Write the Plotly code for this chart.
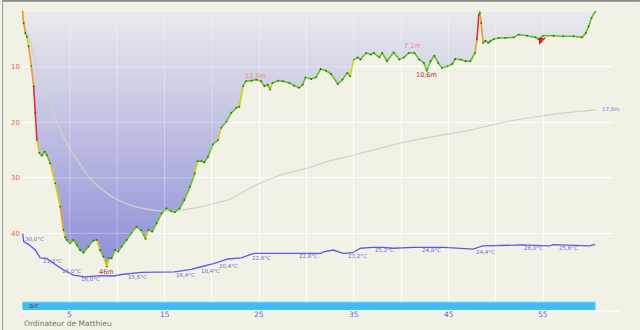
import numpy as np
import plotly.graph_objects as go

# ---------------- data ----------------
time_min = [0, 0.13, 0.3, 0.47, 0.65, 0.93, 1.18, 1.35, 1.53, 1.77, 2.05, 2.34, 2.58, 2.93, 3.45, 3.98,
            4.33, 4.5, 4.68, 5.03, 5.39, 5.74, 6.08, 6.44, 6.97, 7.49, 7.84, 8.19, 8.55, 8.9, 9.14, 9.42,
            9.77, 10.12, 10.47, 11.0, 11.5, 12.05, 12.5, 13.0, 13.3, 13.7, 14.16, 14.7, 15.2, 15.7, 16.1,
            16.6, 17.1, 17.7, 18.2, 18.5, 18.9, 19.2, 19.6, 20.1, 20.65, 21.0, 21.53, 22.05, 22.6, 22.9,
            23.3, 23.6, 24.2, 24.7, 25.2, 25.56, 25.9, 26.16, 26.4, 27.0, 27.5, 28.2, 28.7, 29.2, 29.6,
            29.9, 30.5, 31.0, 31.5, 32.05, 32.6, 33.3, 33.8, 34.3, 34.6, 35.0, 35.4, 35.7, 36.3, 36.8,
            37.1, 37.7, 38.0, 38.5, 39.2, 39.8, 40.3, 40.8, 41.4, 41.9, 42.4, 42.7, 43.1, 43.5, 43.9,
            44.3, 44.9, 45.4, 45.7, 46.3, 46.8, 47.3, 47.8, 48.0, 48.2, 48.3, 48.45, 48.65, 48.9, 49.2,
            49.4, 49.8, 50.3, 51.0, 51.9, 52.4, 53.3, 54.2, 54.5, 55.0, 56.1, 57.1, 58.2, 59.1, 59.5,
            59.8, 60.1, 60.5]
depth_m = [0, 2.1, 3.9, 4.6, 6.3, 9.9, 13.5, 18.3, 23.2, 25.5, 26.0, 25.3, 25.9, 27.4, 31.0, 35.2,
           39.4, 40.7, 41.2, 41.8, 41.2, 42.1, 43.0, 43.5, 42.4, 41.3, 41.2, 43.0, 44.2, 46.0, 44.5, 44.5,
           43.0, 43.3, 42.4, 41.2, 40.0, 38.8, 39.4, 41.0, 39.4, 39.7, 38.2, 36.4, 35.5, 36.0, 36.2,
           35.5, 34.0, 31.6, 29.2, 27.0, 27.0, 27.2, 26.2, 24.0, 23.2, 21.0, 19.9, 18.3, 17.4, 17.2,
           13.5, 12.6, 12.5, 12.3, 12.6, 13.5, 13.2, 14.1, 12.9, 12.5, 12.6, 12.9, 13.4, 13.8, 13.2,
           11.9, 12.2, 11.9, 10.4, 10.7, 11.3, 13.1, 12.3, 11.1, 11.7, 8.7, 8.3, 8.7, 7.5, 7.8,
           7.5, 8.3, 7.5, 9.0, 7.4, 8.7, 8.3, 7.5, 7.5, 8.7, 9.3, 10.7, 9.0, 8.0, 9.3,
           10.2, 9.9, 9.5, 8.6, 8.7, 9.0, 9.0, 7.5, 5.1, 0.6, 0.2, 2.1, 5.7, 5.3, 5.7,
           5.4, 5.0, 4.8, 4.8, 4.7, 4.2, 4.4, 4.7, 5.0, 4.4, 4.4, 4.5, 4.5, 4.7, 3.9,
           2.7, 1.2, 0]

avg_time = [0.02, 0.65, 1.35, 1.87, 2.4, 3.45, 4.86, 6.26, 7.3, 8.7, 10.1, 11.9, 14.3, 16.4, 18.9,
            21.0, 21.7, 24.7, 27.3, 29.8, 32.2, 35.0, 37.5, 40.0, 42.05, 47.3, 50.8, 54.3, 57.8, 60.5]
avg_depth = [2.1, 4.5, 8.7, 12.3, 14.7, 19.2, 24.4, 28.0, 30.4, 32.5, 34.0, 35.2, 35.9, 35.9, 35.2,
             34.3, 34.0, 31.3, 29.5, 28.4, 27.1, 25.9, 24.8, 23.7, 23.0, 21.4, 20.0, 19.0, 18.2, 17.8]

temp_time = [0.02, 0.13, 0.65, 1.35, 1.87, 2.58, 3.45, 4.33, 5.39, 6.61, 8.37, 9.6, 10.47, 12.58,
             16.05, 17.84, 18.9, 20.26, 21.7, 23.1, 24.2, 24.5, 31.5, 31.8, 32.8, 33.3, 33.9, 34.9,
             35.7, 37.0, 38.05, 39.2, 41.3, 44.5, 47.6, 48.6, 52.8, 55.7, 56.05, 59.9, 60.5]
temp_c = [29.9, 27.1, 26.2, 24.3, 21.7, 21.5, 19.5, 17.6, 15.9, 15.3, 15.7, 15.6, 16.1, 16.8,
          17.0, 17.8, 18.7, 19.8, 21.3, 21.7, 22.9, 23.2, 23.2, 23.7, 24.3, 23.7, 23.2, 23.4,
          24.9, 25.2, 25.2, 24.9, 25.2, 25.2, 24.6, 25.7, 26.0, 25.7, 26.1, 25.7, 26.2]

temp_label_time = [0.05, 1.98, 4.0, 6.0, 10.9, 16.0, 18.6, 20.5, 24.0, 29.0, 34.2, 37.0, 41.95,
                   47.7, 52.8, 56.5]
temp_label_text = ["30,0°C", "21,0°C", "18,0°C", "16,0°C", "15,6°C", "16,4°C", "18,4°C", "20,4°C",
                   "22,6°C", "22,8°C", "23,2°C", "25,2°C", "24,8°C", "24,4°C", "26,0°C", "25,6°C"]

depth_label_time = [8.9, 24.6, 41.2, 42.7]
depth_label_value = [46.0, 12.5, 7.1, 10.6]
depth_label_text = ["46m", "12,5m", "7,1m", "10,6m"]
depth_label_side = ["below", "above", "above", "below"]
avg_label_text = "17,8m"

alarm_time = [54.8]
alarm_depth = [5.2]

x_tick_vals = [0, 5, 10, 15, 20, 25, 30, 35, 40, 45, 50, 55]
x_tick_text = ["", "5", "", "15", "", "25", "", "35", "", "45", "", "55"]
y_tick_vals = [0, 10, 20, 30, 40]
y_tick_text = ["", "10", "20", "30", "40"]

gas_name = "air"
computer_name = "Ordinateur de Matthieu"

# ---------------- figure ----------------
BG = "#f2f1e6"
FONT = "DejaVu Sans"
fig = go.Figure()

# gradient fill under the profile (to depth 0)
fig.add_trace(go.Scatter(
    x=time_min, y=depth_m, mode="lines", line=dict(width=0, color="rgba(0,0,0,0)"),
    fill="tozeroy",
    fillgradient=dict(type="vertical",
                      colorscale=[[0, "rgb(234,234,236)"], [0.5, "rgb(188,188,226)"], [1, "rgb(142,142,218)"]],
                      start=0, stop=max(depth_m)),
    hoverinfo="skip", showlegend=False))

# average depth line
fig.add_trace(go.Scatter(x=avg_time, y=avg_depth, mode="lines", line=dict(color="#d2d2ca", width=1.2, shape="spline"),
                         hoverinfo="skip", showlegend=False))

# temperature line
fig.add_trace(go.Scatter(x=temp_time, y=temp_c, yaxis="y2", mode="lines",
                         line=dict(color="#5a5ae8", width=1.3), hoverinfo="skip", showlegend=False))

# profile coloured by vertical speed
classes = [(5, "#62c41a"), (10, "#d4d400"), (20, "#f09a28"), (1e9, "#e83030")]
seg = {c: ([], []) for _, c in classes}
for i in range(len(time_min) - 1):
    dt = time_min[i + 1] - time_min[i]
    rate = abs(depth_m[i + 1] - depth_m[i]) / dt
    for lim, c in classes:
        if rate < lim:
            seg[c][0].extend([time_min[i], time_min[i + 1], None])
            seg[c][1].extend([depth_m[i], depth_m[i + 1], None])
            break
for _, c in classes:
    fig.add_trace(go.Scatter(x=seg[c][0], y=seg[c][1], mode="lines", line=dict(color=c, width=1.6),
                             connectgaps=False, hoverinfo="skip", showlegend=False))

fig.add_trace(go.Scatter(x=time_min, y=depth_m, mode="markers",
                         marker=dict(color="#2a6a22", size=1.8), hoverinfo="skip", showlegend=False))

fig.add_trace(go.Scatter(x=alarm_time, y=alarm_depth, mode="markers",
                         marker=dict(symbol="triangle-nw", color="#e01818", size=8),
                         hoverinfo="skip", showlegend=False))

# ---------------- annotations ----------------
ann = []
temp_at = np.interp(temp_label_time, temp_time, temp_c)
for t, v, s in zip(temp_label_time, temp_at, temp_label_text):
    ann.append(dict(x=t, y=v, xref="x", yref="y2", text=s, showarrow=False, xanchor="left",
                    yanchor="top", yshift=2, font=dict(family=FONT, size=5.5, color="#6a6ad2")))
for t, v, s, side in zip(depth_label_time, depth_label_value, depth_label_text, depth_label_side):
    col = "#a83838" if side == "below" else "#f08a8a"
    ann.append(dict(x=t, y=v, xref="x", yref="y", text=s, showarrow=False, xanchor="center",
                    yanchor="top" if side == "below" else "bottom",
                    yshift=1 if side == "below" else -1,
                    font=dict(family=FONT, size=6.5, color=col)))
ann.append(dict(x=avg_time[-1], y=avg_depth[-1], xref="x", yref="y", text=avg_label_text, showarrow=False,
                xanchor="left", yanchor="middle", xshift=5, yshift=1,
                font=dict(family=FONT, size=5.5, color="#7a7ae0")))
ann.append(dict(x=time_min[0] + 0.5, y=0.017, xref="x", yref="paper", text=gas_name, showarrow=False,
                xanchor="left", yanchor="middle", font=dict(family=FONT, size=7, color="#4a4a5a")))
ann.append(dict(x=0, y=-0.04, xref="paper", yref="paper", text=computer_name, showarrow=False,
                xanchor="left", yanchor="middle", font=dict(family=FONT, size=7.5, color="#6e7a62")))
for xv, s in zip(x_tick_vals, x_tick_text):
    if s:
        ann.append(dict(x=xv, y=-0.012, xref="x", yref="paper", text=s, showarrow=False,
                        xanchor="center", yanchor="middle", font=dict(family=FONT, size=7.5, color="#6464e4")))

# ---------------- shapes ----------------
shapes = []
# gas bar
shapes.append(dict(type="rect", xref="x", yref="paper", x0=time_min[0], x1=time_min[-1],
                   y0=0.002, y1=0.03, fillcolor="#3fbcf6", line=dict(color="#8ed6fa", width=1), layer="above"))
# faint grid over the fill
for xv in x_tick_vals[1:]:
    shapes.append(dict(type="line", xref="x", yref="paper", x0=xv, x1=xv, y0=0.03, y1=1,
                       line=dict(color="rgba(255,255,255,0.3)", width=1), layer="above"))
for yv in y_tick_vals:
    shapes.append(dict(type="line", xref="paper", yref="y", x0=0, x1=1, y0=yv, y1=yv,
                       line=dict(color="rgba(255,255,255,0.3)", width=1), layer="above"))
# bottom axis line
shapes.append(dict(type="line", xref="paper", yref="paper", x0=0, x1=(619 - 20) / 593, y0=0, y1=0,
                   line=dict(color="white", width=1.5)))
# window border
shapes.append(dict(type="line", xref="paper", yref="paper", x0=-20 / 593, x1=620 / 593,
                   y0=(311 - 0.8) / 300, y1=(311 - 0.8) / 300, line=dict(color="#8a8a8a", width=2)))
shapes.append(dict(type="line", xref="paper", yref="paper", x0=-19.5 / 593, x1=-19.5 / 593,
                   y0=311 / 300, y1=-19 / 300, line=dict(color="#9a9a9a", width=1)))

fig.update_layout(
    width=640, height=330,
    margin=dict(l=20, r=27, t=11, b=19),
    paper_bgcolor=BG, plot_bgcolor=BG,
    showlegend=False,
    font=dict(family=FONT),
    xaxis=dict(range=[-0.05, 62.37], tickvals=x_tick_vals, showticklabels=False, showgrid=True,
               gridcolor="white", gridwidth=1, zeroline=False, showline=False, ticks="", fixedrange=True),
    yaxis=dict(range=[54.0, -0.05], tickvals=y_tick_vals, ticktext=y_tick_text, showgrid=True,
               gridcolor="white", gridwidth=1, zeroline=False, showline=False, ticks="",
               tickfont=dict(size=7, color="#f06464"), ticklabelstandoff=1, fixedrange=True),
    yaxis2=dict(range=[3.88, 104.35], overlaying="y", visible=False, showgrid=False, fixedrange=True),
    annotations=ann,
    shapes=shapes,
)

fig.write_html("out.html")
